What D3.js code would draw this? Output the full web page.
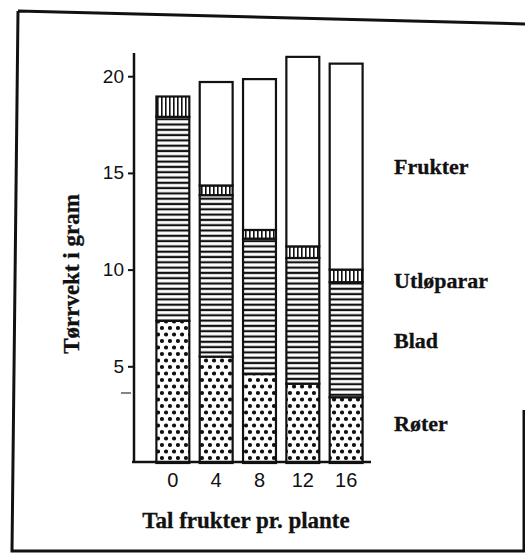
<!DOCTYPE html>
<html>
<head>
<meta charset="utf-8">
<script src="https://cdn.jsdelivr.net/npm/d3@7"></script>
<style>
  body { margin: 0; background: #fff; }
  .tick text { font-family: "Liberation Sans", Arial, sans-serif; font-size: 19px; fill: #111; }
  .serif { font-family: "Liberation Serif", "Times New Roman", serif; font-weight: bold; fill: #111; stroke: #111; stroke-width: 0.3; }
</style>
</head>
<body>
<div id="chart"></div>
<script>
var svgWidth = 525;
var svgHeight = 555;

// data (gram dry weight per part)
var categories = ["0", "4", "8", "12", "16"];
var roter      = [7.35, 5.5, 4.6, 4.1, 3.4];
var blad       = [10.55, 8.35, 7.0, 6.5, 5.95];
var utloparar  = [1.05, 0.5, 0.45, 0.6, 0.65];
var frukter    = [0, 5.35, 7.8, 9.8, 10.65];
var yTicks     = [5, 10, 15, 20];
var seriesKeys = ["Røter", "Blad", "Utløparar", "Frukter"];

var table = categories.map(function(c, i) {
  return { cat: c, "Røter": roter[i], "Blad": blad[i], "Utløparar": utloparar[i], "Frukter": frukter[i] };
});

var svg = d3.select("#chart")
  .append("svg")
  .attr("width", svgWidth)
  .attr("height", svgHeight);

// fill patterns
var defs = svg.append("defs");

var dots = defs.append("pattern")
  .attr("id", "dots")
  .attr("patternUnits", "userSpaceOnUse")
  .attr("width", 8).attr("height", 13);
dots.append("rect").attr("width", 8).attr("height", 13).attr("fill", "#fff");
dots.append("circle").attr("cx", 2).attr("cy", 3).attr("r", 2.1).attr("fill", "#111");
dots.append("circle").attr("cx", 6).attr("cy", 9.5).attr("r", 2.1).attr("fill", "#111");

var hlines = defs.append("pattern")
  .attr("id", "hlines")
  .attr("patternUnits", "userSpaceOnUse")
  .attr("width", 6).attr("height", 5.3);
hlines.append("rect").attr("width", 6).attr("height", 5.3).attr("fill", "#fff");
hlines.append("rect").attr("y", 1.5).attr("width", 6).attr("height", 2.2).attr("fill", "#111");

var vlines = defs.append("pattern")
  .attr("id", "vlines")
  .attr("patternUnits", "userSpaceOnUse")
  .attr("width", 4).attr("height", 6);
vlines.append("rect").attr("width", 4).attr("height", 6).attr("fill", "#fff");
vlines.append("rect").attr("x", 1).attr("width", 1.6).attr("height", 6).attr("fill", "#111");

var fills = {
  "Røter": "url(#dots)",
  "Blad": "url(#hlines)",
  "Utløparar": "url(#vlines)",
  "Frukter": "#fff"
};

// outer frame (scanned page border, slightly skewed)
svg.append("path")
  .attr("d", "M18,11 L526,24 M18,11 L12,551 L526,551 M524,410 L524,551")
  .attr("fill", "none")
  .attr("stroke", "#111")
  .attr("stroke-width", 3);

// scales
var x = d3.scaleBand()
  .domain(categories)
  .range([146, 373])
  .padding(0.24);

var y = d3.scaleLinear()
  .domain([0, 21.2])
  .range([463, 53]);

var stack = d3.stack().keys(seriesKeys);
var stacked = stack(table);

// bars
var layers = svg.append("g").selectAll("g")
  .data(stacked)
  .enter()
  .append("g")
  .attr("fill", d => fills[d.key]);

layers.selectAll("rect")
  .data(d => d)
  .enter()
  .append("rect")
  .filter(d => d[1] - d[0] > 0)
  .attr("x", d => x(d.data.cat))
  .attr("y", d => y(d[1]))
  .attr("width", x.bandwidth())
  .attr("height", d => y(d[0]) - y(d[1]))
  .attr("stroke", "#111")
  .attr("stroke-width", 2.2);

// y axis
var leftAxis = d3.axisLeft(y)
  .tickValues(yTicks)
  .tickSize(6)
  .tickPadding(4)
  .tickFormat(d3.format("d"));

var yAxisG = svg.append("g")
  .attr("transform", "translate(134,0)")
  .call(leftAxis);
yAxisG.select(".domain").remove();
yAxisG.selectAll(".tick line").attr("stroke", "#111").attr("stroke-width", 2);

svg.append("line")
  .attr("x1", 134).attr("x2", 134)
  .attr("y1", y(0)).attr("y2", y(21.2))
  .attr("stroke", "#111").attr("stroke-width", 2.5);

// x axis
var bottomAxis = d3.axisBottom(x).tickSize(0).tickPadding(11);
var xAxisG = svg.append("g")
  .attr("transform", "translate(0," + (y(0) - 1) + ")")
  .call(bottomAxis);
xAxisG.select(".domain").remove();
xAxisG.selectAll(".tick text").style("font-size", "20px");

svg.append("line")
  .attr("x1", 132).attr("x2", 371)
  .attr("y1", y(0) - 1).attr("y2", y(0) - 1)
  .attr("stroke", "#111").attr("stroke-width", 2.5);

// stray scan mark
svg.append("line")
  .attr("x1", 121).attr("x2", 131)
  .attr("y1", 393).attr("y2", 393)
  .attr("stroke", "#333").attr("stroke-width", 1.2);

// axis titles
svg.append("text")
  .attr("class", "serif")
  .attr("transform", "translate(79,274) rotate(-90)")
  .attr("text-anchor", "middle")
  .style("font-size", "23px")
  .text("Tørrvekt i gram");

svg.append("text")
  .attr("class", "serif")
  .attr("x", 246).attr("y", 528)
  .attr("text-anchor", "middle")
  .style("font-size", "23px")
  .text("Tal frukter pr. plante");

// series labels on the right
var labelY = { "Frukter": 174, "Utløparar": 288, "Blad": 348, "Røter": 431 };
svg.append("g").selectAll("text")
  .data(seriesKeys)
  .enter()
  .append("text")
  .attr("class", "serif")
  .attr("x", 394)
  .attr("y", d => labelY[d])
  .style("font-size", "22px")
  .text(d => d);
</script>
</body>
</html>
